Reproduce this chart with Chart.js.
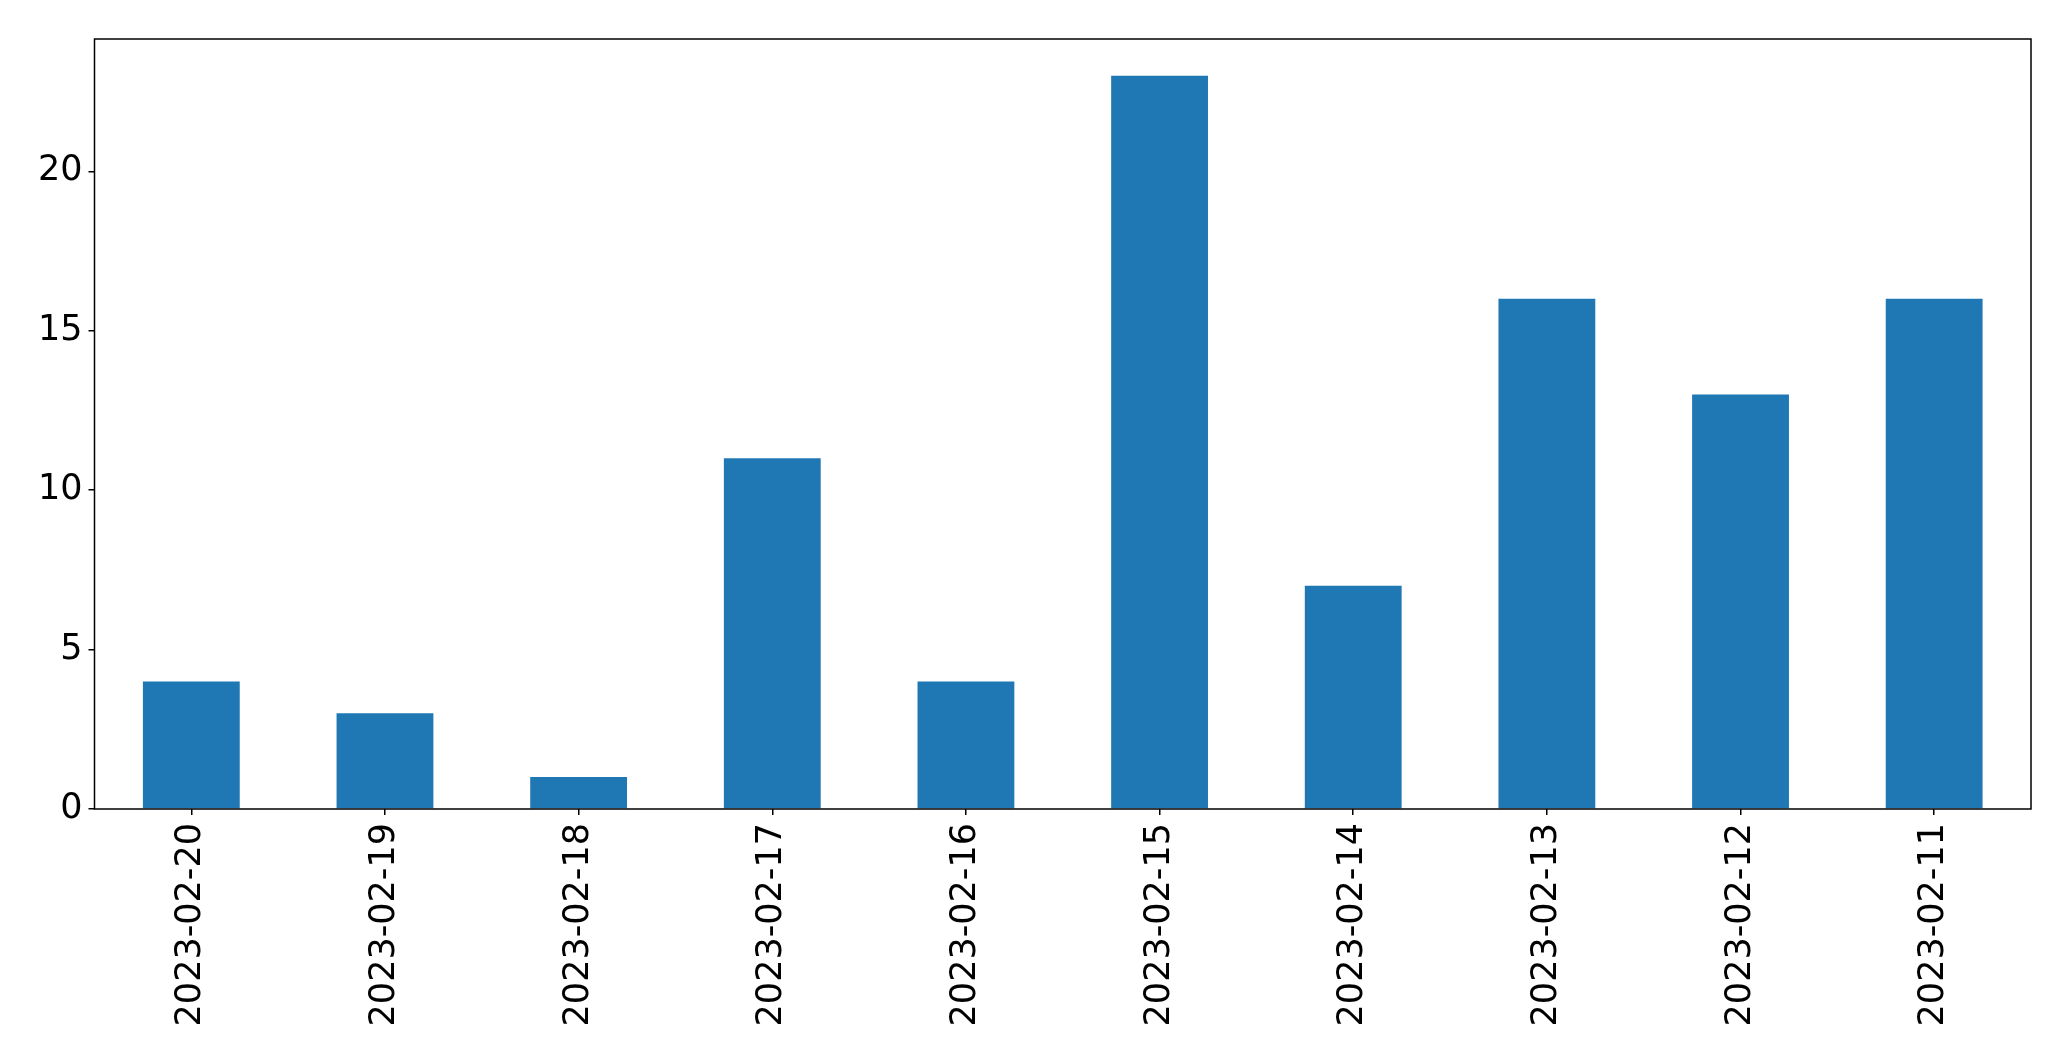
<!DOCTYPE html>
<html>
<head>
<meta charset="utf-8">
<script src="https://cdn.jsdelivr.net/npm/chart.js@4/dist/chart.umd.min.js"></script>
<style>
  html, body { margin: 0; padding: 0; background: #fff; }
  #wrap { width: 2071px; height: 1061px; }
</style>
</head>
<body>
<div id="wrap"><canvas id="myChart" width="2071" height="1061"></canvas></div>
<script>
// data
var dates = ["2023-02-20", "2023-02-19", "2023-02-18", "2023-02-17", "2023-02-16",
             "2023-02-15", "2023-02-14", "2023-02-13", "2023-02-12", "2023-02-11"]
var counts = [4, 3, 1, 11, 4, 23, 7, 16, 13, 16]
var yTicks = [0, 5, 10, 15, 20]

// frame round the plot area, like matplotlib axes spines
var framePlugin = {
  id: 'frame',
  afterDraw(chart) {
    let a = chart.chartArea
    let ctx = chart.ctx
    ctx.save()
    ctx.strokeStyle = '#000'
    ctx.lineWidth = 1.5
    ctx.strokeRect(a.left, a.top, a.right - a.left, a.bottom - a.top)
    ctx.restore()
  }
}

var ctx = document.getElementById("myChart").getContext("2d");
var myChart = new Chart(ctx, {
  type: 'bar',
  data: {
    labels: dates,
    datasets: [
      {
        label: "",
        data: counts,
        backgroundColor: "#1f77b4",
        borderWidth: 0,
        barPercentage: 0.5,
        categoryPercentage: 1.0
      }
    ]
  },
  options: {
    responsive: false,
    animation: false,
    layout: { padding: { left: 0, top: 39, right: 40, bottom: 0 } },
    plugins: {
      legend: { display: false },
      tooltip: { enabled: false }
    },
    scales: {
      x: {
        offset: true,
        grid: { display: true, offset: false, drawOnChartArea: false, drawTicks: true, tickLength: 6, color: '#000', lineWidth: 1.5 },
        border: { display: false },
        ticks: {
          color: '#000',
          font: { family: 'DejaVu Sans', size: 35 },
          minRotation: 90,
          maxRotation: 90,
          autoSkip: false,
          padding: 8
        },
        afterFit(scale) { scale.height = 252 }
      },
      y: {
        min: 0,
        max: 24.15,
        afterBuildTicks(scale) { scale.ticks = yTicks.map(v => ({ value: v })) },
        grid: { display: true, drawOnChartArea: false, drawTicks: true, tickLength: 6, color: '#000', lineWidth: 1.5 },
        border: { display: false },
        ticks: {
          color: '#000',
          font: { family: 'DejaVu Sans', size: 35 },
          padding: 6
        },
        afterFit(scale) { scale.width = 94.5 }
      }
    }
  },
  plugins: [framePlugin]
});
</script>
</body>
</html>
